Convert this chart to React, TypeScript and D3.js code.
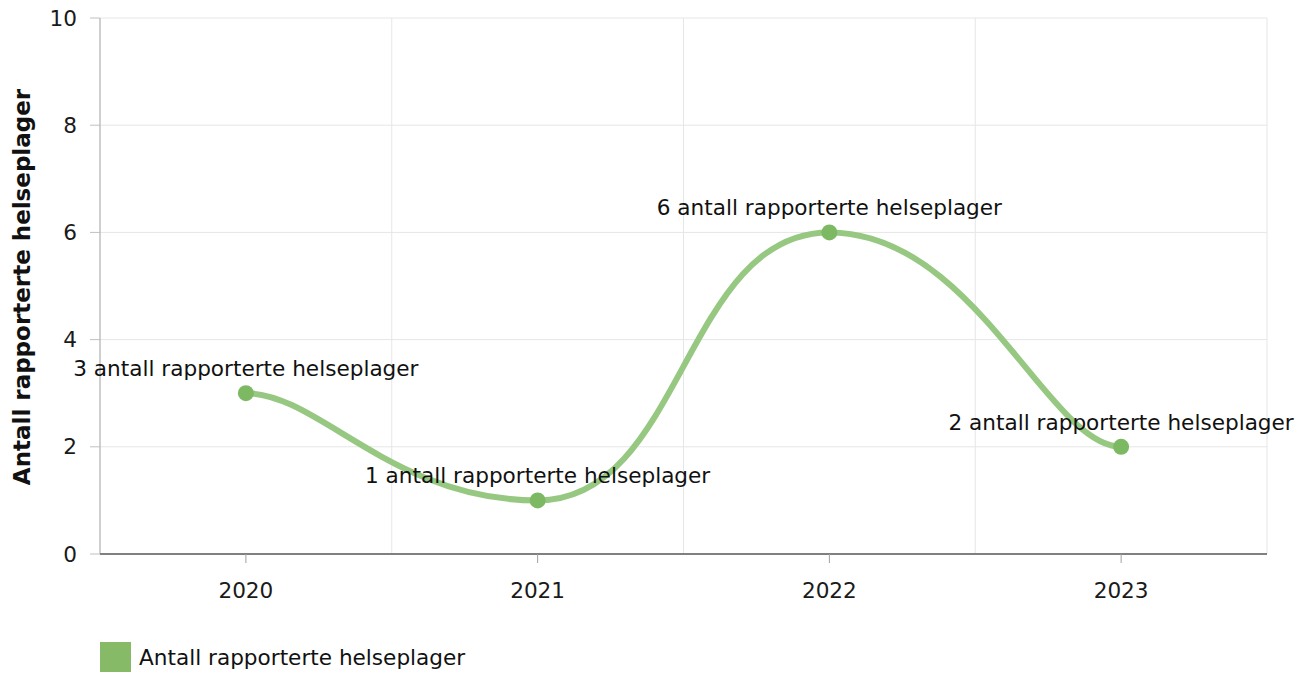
import React from "react";
import * as d3 from "d3";

const categories = ["2020", "2021", "2022", "2023"];
const values = [3, 1, 6, 2];
const yTicks = [0, 2, 4, 6, 8, 10];
const seriesName = "Antall rapporterte helseplager";
const labelSuffix = " antall rapporterte helseplager";

const W = 1310;
const H = 673;
const left = 100;
const right = 1267;
const top = 18;
const bottom = 554;
const FONT = "'DejaVu Sans', Verdana, sans-serif";
const FS = 21.6;

// smooth curve: horizontal tangents at each point (all interior points are extremes here)
function smoothPath(pts: [number, number][]): string {
  const inner = 0.5;
  const edge = 0.25;
  const p = d3.path();
  const n = pts.length;
  pts.forEach((pt, i) => {
    if (i === 0) {
      p.moveTo(pt[0], pt[1]);
      return;
    }
    const a = pts[i - 1];
    const dx = pt[0] - a[0];
    const k0 = i - 1 === 0 ? edge : inner;
    const k1 = i === n - 1 ? edge : inner;
    p.bezierCurveTo(a[0] + dx * k0, a[1], pt[0] - dx * k1, pt[1], pt[0], pt[1]);
  });
  return p.toString();
}

export default function App() {
  const x = d3.scaleBand<string>().domain(categories).range([left, right]);
  const y = d3.scaleLinear().domain([0, 10]).range([bottom, top]);
  const cx = (c: string) => (x(c) as number) + x.bandwidth() / 2;
  const pts: [number, number][] = categories.map((c, i) => [cx(c), y(values[i])]);
  const boundaries = categories.map((c) => (x(c) as number) + x.bandwidth());

  return (
    <svg
      width={W}
      height={H}
      style={{ position: "absolute", left: 0, top: 0, background: "#fff" }}
      fontFamily={FONT}
    >
      {yTicks.map((t) => (
        <line key={"h" + t} x1={left} x2={right} y1={y(t)} y2={y(t)} stroke="#e6e6e6" strokeWidth={1} />
      ))}
      {boundaries.map((b, i) => (
        <line key={"v" + i} x1={b} x2={b} y1={top} y2={bottom} stroke="#e6e6e6" strokeWidth={1} />
      ))}
      <line x1={left} x2={left} y1={top} y2={bottom} stroke="#a0a0a0" strokeWidth={1} />
      {yTicks.map((t) => (
        <g key={"yt" + t}>
          <line x1={left - 10} x2={left} y1={y(t)} y2={y(t)} stroke="#c0c0c0" strokeWidth={1} />
          <text x={77} y={y(t)} dy="0.35em" textAnchor="end" fontSize={FS} fill="#1a1a1a">
            {t}
          </text>
        </g>
      ))}
      <line x1={left} x2={right} y1={bottom} y2={bottom} stroke="#808080" strokeWidth={2} />
      {categories.map((c) => (
        <g key={"xt" + c}>
          <line x1={cx(c)} x2={cx(c)} y1={bottom} y2={bottom + 9} stroke="#a0a0a0" strokeWidth={1} />
          <text x={cx(c)} y={598} textAnchor="middle" fontSize={FS} fill="#1a1a1a">
            {c}
          </text>
        </g>
      ))}
      <text
        transform={`translate(30, ${(top + bottom) / 2 + 1}) rotate(-90)`}
        textAnchor="middle"
        fontSize={23}
        fontWeight="bold"
        fill="#111"
      >
        {seriesName}
      </text>
      <path d={smoothPath(pts)} fill="none" stroke="#97c882" strokeWidth={6} strokeLinecap="round" />
      {pts.map((p, i) => (
        <circle key={"m" + i} cx={p[0]} cy={p[1]} r={8} fill="#7db963" />
      ))}
      {pts.map((p, i) => (
        <text key={"l" + i} x={p[0]} y={p[1] - 17} textAnchor="middle" fontSize={FS} fill="#111">
          {values[i] + labelSuffix}
        </text>
      ))}
      <rect x={100} y={642} width={31} height={30} fill="#86ba67" />
      <text x={139} y={665} fontSize={FS} fill="#111">
        {seriesName}
      </text>
    </svg>
  );
}
